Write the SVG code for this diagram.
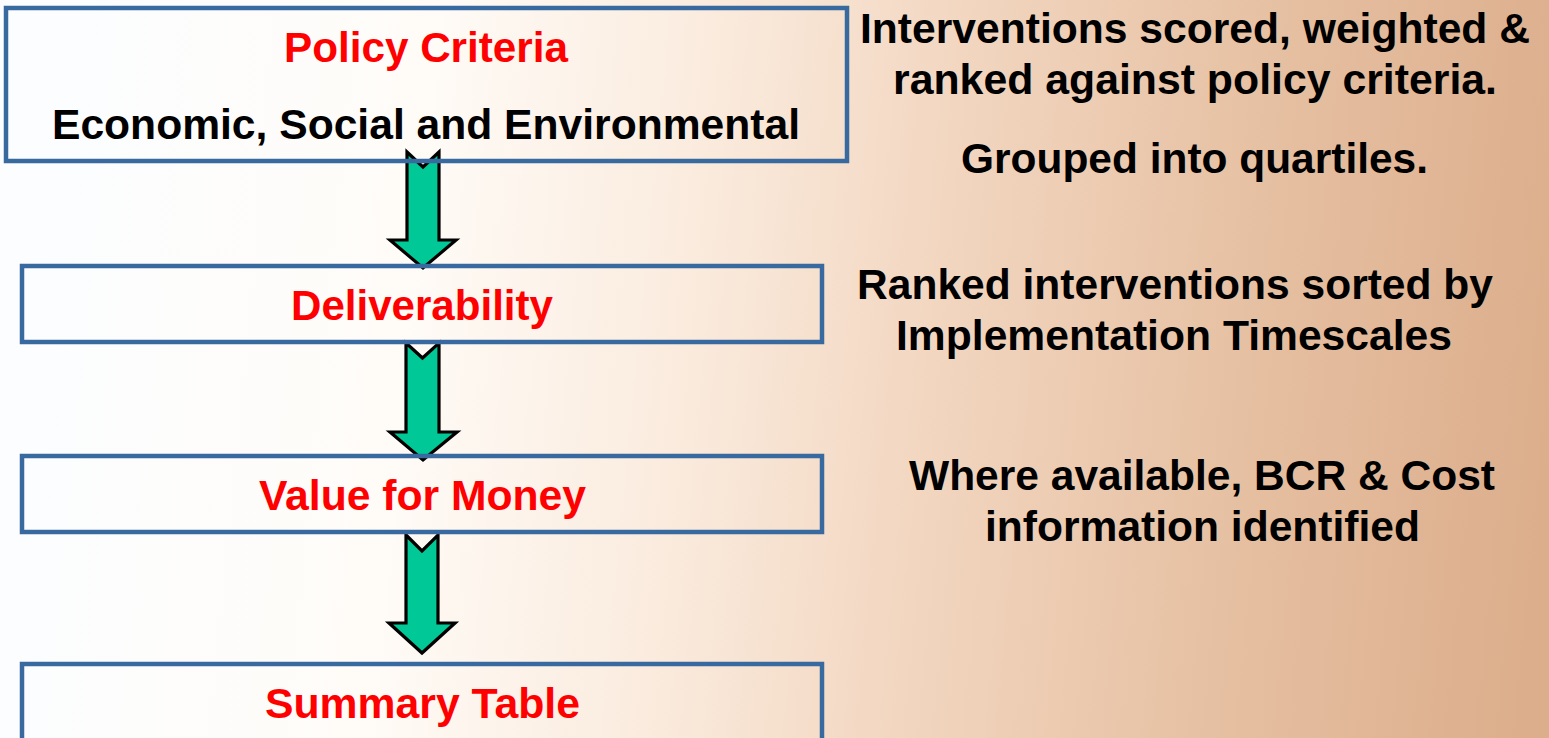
<svg xmlns="http://www.w3.org/2000/svg" width="1549" height="738" viewBox="0 0 1549 738">
<style>
.box{fill:none;stroke:#386aa0;stroke-width:4.5}
.arrow{fill:#00c896;stroke:#000;stroke-width:3.2;stroke-linejoin:miter}
text{font-family:"Liberation Sans",Arial,sans-serif;font-weight:bold;font-size:42px;text-anchor:middle}
.red{fill:#ff0000}
.blk{fill:#000}
</style>
<defs>
<linearGradient id="bg" gradientUnits="userSpaceOnUse" x1="0" y1="300" x2="1549" y2="450">
<stop offset="0" stop-color="#fbfdff"/>
<stop offset="0.25" stop-color="#fffcf8"/>
<stop offset="0.45" stop-color="#faeadc"/>
<stop offset="0.6" stop-color="#f2d6c0"/>
<stop offset="0.8" stop-color="#e6c0a2"/>
<stop offset="1" stop-color="#dcae8c"/>
</linearGradient>
</defs>
<rect x="0" y="0" width="1549" height="738" fill="url(#bg)"/>
<g id="connectors">
<polygon class="arrow" points="407,152 423,167 439,152 439,240 456,240 423,268 390,240 407,240"/>
<polygon class="arrow" points="406,343 422.5,358 439,343 439,432 457,432 423,460 390,432 406,432"/>
<polygon class="arrow" points="406,535 422,551 438,535 438,623 455,623 422,653 389,623 406,623"/>
</g>
<g id="policy-criteria">
<rect class="box" x="6" y="8" width="841" height="153"/>
<text class="red" x="426" y="62" textLength="284" lengthAdjust="spacingAndGlyphs">Policy Criteria</text>
<text class="blk" x="426" y="139" textLength="748" lengthAdjust="spacingAndGlyphs">Economic, Social and Environmental</text>
</g>
<g id="deliverability">
<rect class="box" x="22" y="266" width="800" height="76"/>
<text class="red" x="422" y="320" textLength="262" lengthAdjust="spacingAndGlyphs">Deliverability</text>
</g>
<g id="value-for-money">
<rect class="box" x="22" y="456" width="800" height="76"/>
<text class="red" x="422.5" y="510" textLength="327" lengthAdjust="spacingAndGlyphs">Value for Money</text>
</g>
<g id="summary-table">
<rect class="box" x="22" y="664" width="800" height="90"/>
<text class="red" x="422.5" y="718" textLength="315" lengthAdjust="spacingAndGlyphs">Summary Table</text>
</g>
<g id="note-policy">
<text class="blk" x="1195" y="43" textLength="670" lengthAdjust="spacingAndGlyphs">Interventions scored, weighted &amp;</text>
<text class="blk" x="1195" y="94" textLength="604" lengthAdjust="spacingAndGlyphs">ranked against policy criteria.</text>
<text class="blk" x="1194.5" y="173" textLength="467" lengthAdjust="spacingAndGlyphs">Grouped into quartiles.</text>
</g>
<g id="note-deliverability">
<text class="blk" x="1175" y="299" textLength="636" lengthAdjust="spacingAndGlyphs">Ranked interventions sorted by</text>
<text class="blk" x="1174" y="350" textLength="556" lengthAdjust="spacingAndGlyphs">Implementation Timescales</text>
</g>
<g id="note-value">
<text class="blk" x="1202" y="490" textLength="586" lengthAdjust="spacingAndGlyphs">Where available, BCR &amp; Cost</text>
<text class="blk" x="1202.5" y="541" textLength="435" lengthAdjust="spacingAndGlyphs">information identified</text>
</g>
</svg>
